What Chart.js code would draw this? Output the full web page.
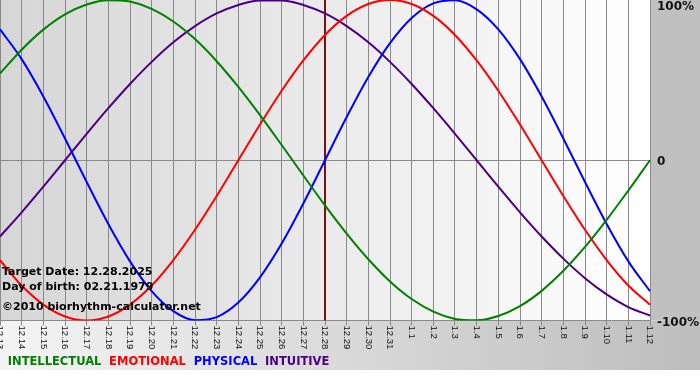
<!DOCTYPE html>
<html>
<head>
<meta charset="utf-8">
<script src="https://cdn.jsdelivr.net/npm/chart.js@4.4.1/dist/chart.umd.min.js"></script>
<style>
  html, body { margin: 0; padding: 0; background: #fff; }
  canvas { display: block; }
</style>
</head>
<body>
<canvas id="bio" width="700" height="380"></canvas>
<script>
// дни на оси X
const days = ['12.13', '12.14', '12.15', '12.16', '12.17', '12.18', '12.19', '12.20', '12.21', '12.22',
  '12.23', '12.24', '12.25', '12.26', '12.27', '12.28', '12.29', '12.30', '12.31',
  '1.1', '1.2', '1.3', '1.4', '1.5', '1.6', '1.7', '1.8', '1.9', '1.10', '1.11', '1.12'];

// значения ритмов (-1..1)
const intellectual = [0.541, 0.690, 0.815, 0.910, 0.972, 0.999, 0.990, 0.945, 0.866, 0.756, 0.618, 0.458, 0.282, 0.095, -0.095,
  -0.282, -0.458, -0.618, -0.756, -0.866, -0.945, -0.990, -0.999, -0.972, -0.910, -0.815, -0.690, -0.541, -0.372, -0.189, 0.000];
const emotional = [-0.623, -0.782, -0.901, -0.975, -1.000, -0.975, -0.901, -0.782, -0.623, -0.434, -0.223, 0.000, 0.223, 0.434, 0.623,
  0.782, 0.901, 0.975, 1.000, 0.975, 0.901, 0.782, 0.623, 0.434, 0.223, 0.000, -0.223, -0.434, -0.623, -0.782, -0.901];
const physical = [0.817, 0.631, 0.398, 0.136, -0.136, -0.398, -0.631, -0.817, -0.942, -0.998, -0.979, -0.888, -0.731, -0.520, -0.270,
  0.000, 0.270, 0.520, 0.731, 0.888, 0.979, 0.998, 0.942, 0.817, 0.631, 0.398, 0.136, -0.136, -0.398, -0.631, -0.817];
const intuitive = [-0.476, -0.325, -0.165, 0.000, 0.165, 0.325, 0.476, 0.614, 0.736, 0.837, 0.916, 0.969, 0.997, 0.997, 0.969,
  0.916, 0.837, 0.736, 0.614, 0.476, 0.325, 0.165, 0.000, -0.165, -0.325, -0.476, -0.614, -0.736, -0.837, -0.916, -0.969];

const seriesNames = ['INTELLECTUAL', 'EMOTIONAL', 'PHYSICAL', 'INTUITIVE'];
const seriesColors = ['#008000', '#ff0000', '#0000ff', '#4b0082'];

const yTickValues = [1, 0, -1];
const yTickLabels = ['100%', '0', '-100%'];

const targetDay = '12.28';
const infoLines = ['Target Date: 12.28.2025', 'Day of birth: 02.21.1979', '\u00a92010 biorhythm-calculator.net'];

// фон, вертикальная линия даты, подписи
const bioPlugin = {
  id: 'bioPlugin',
  beforeDraw(chart) {
    const { ctx, chartArea: a, width, height } = chart;
    ctx.save();
    ctx.fillStyle = '#ffffff';
    ctx.fillRect(0, 0, width, height);

    // нижняя полоса
    const gb = ctx.createLinearGradient(0, 0, width, 0);
    gb.addColorStop(0, '#f4f4f4');
    gb.addColorStop(1, '#bdbdbd');
    ctx.fillStyle = gb;
    ctx.fillRect(0, a.bottom, width, 370 - a.bottom);

    // правая полоса
    ctx.fillStyle = '#c0c0c0';
    ctx.fillRect(a.right, 0, width - a.right, a.bottom);

    // область графика
    const g = ctx.createLinearGradient(a.left, 0, a.right, 0);
    g.addColorStop(0, '#d6d6d6');
    g.addColorStop(1, '#ffffff');
    ctx.fillStyle = g;
    ctx.fillRect(a.left, a.top, a.right - a.left, a.bottom - a.top);
    ctx.restore();
  },
  beforeDatasetsDraw(chart) {
    const { ctx, chartArea: a } = chart;
    const x = chart.scales.x.getPixelForValue(days.indexOf(targetDay));
    ctx.save();
    ctx.strokeStyle = '#7a1010';
    ctx.lineWidth = 2;
    ctx.beginPath();
    ctx.moveTo(x, a.top);
    ctx.lineTo(x, a.bottom);
    ctx.stroke();
    ctx.restore();
  },
  afterDraw(chart) {
    const { ctx, chartArea: a } = chart;
    const xs = chart.scales.x;
    const ys = chart.scales.y;
    ctx.save();

    // подписи дней, повернутые по часовой
    ctx.fillStyle = '#111';
    ctx.font = '9.5px "Liberation Sans", Arial, sans-serif';
    ctx.textAlign = 'left';
    ctx.textBaseline = 'middle';
    days.forEach((d, i) => {
      ctx.save();
      ctx.translate(xs.getPixelForTick(i), a.bottom + 5);
      ctx.rotate(Math.PI / 2);
      ctx.fillText(d, 0, 0);
      ctx.restore();
    });

    // проценты справа
    ctx.font = 'bold 12px "DejaVu Sans", Verdana, sans-serif';
    ctx.fillStyle = '#111';
    yTickValues.forEach((v, i) => {
      const y = Math.max(7, ys.getPixelForValue(v) + 2);
      ctx.fillText(yTickLabels[i], a.right + 7, y);
    });

    // текст с датами
    ctx.font = 'bold 11px "DejaVu Sans", Verdana, sans-serif';
    ctx.fillStyle = '#000';
    ctx.fillText(infoLines[0], 2, 272);
    ctx.fillText(infoLines[1], 2, 287);
    ctx.fillText(infoLines[2], 2, 307);
    ctx.restore();
  }
};

const datasets = [intellectual, emotional, physical, intuitive].map((vals, i) => ({
  label: seriesNames[i],
  data: vals,
  borderColor: seriesColors[i],
  borderWidth: 2,
  pointRadius: 0,
  cubicInterpolationMode: 'monotone',
  fill: false,
}));

new Chart(document.getElementById('bio'), {
  type: 'line',
  data: { labels: days, datasets: datasets },
  plugins: [bioPlugin],
  options: {
    responsive: false,
    animation: false,
    layout: { padding: { left: 0, right: 0, top: 0, bottom: 2 } },
    plugins: {
      tooltip: { enabled: false },
      legend: {
        position: 'bottom',
        align: 'start',
        labels: {
          boxWidth: 0,
          boxHeight: 0,
          padding: 2,
          font: { family: '"DejaVu Sans", Verdana, sans-serif', size: 11.5, weight: 'bold' },
          generateLabels(chart) {
            return chart.data.datasets.map((ds, i) => ({
              text: ds.label,
              fontColor: ds.borderColor,
              fillStyle: 'rgba(0,0,0,0)',
              strokeStyle: 'rgba(0,0,0,0)',
              lineWidth: 0,
              datasetIndex: i,
              hidden: !chart.isDatasetVisible(i),
            }));
          },
        },
      },
    },
    scales: {
      x: {
        offset: false,
        ticks: { display: false },
        grid: { color: '#8a8a8a', lineWidth: 1, drawTicks: true, tickLength: 5 },
        border: { display: true, color: '#8a8a8a' },
        afterFit(scale) { scale.height = 34; },
      },
      y: {
        position: 'right',
        min: -1,
        max: 1,
        ticks: { display: false, stepSize: 1 },
        grid: {
          drawTicks: false,
          color: (c) => (c.tick && c.tick.value === 0 ? '#8a8a8a' : 'rgba(0,0,0,0)'),
        },
        border: { display: false },
        afterFit(scale) { scale.width = 50; },
      },
    },
  },
});
</script>
</body>
</html>
